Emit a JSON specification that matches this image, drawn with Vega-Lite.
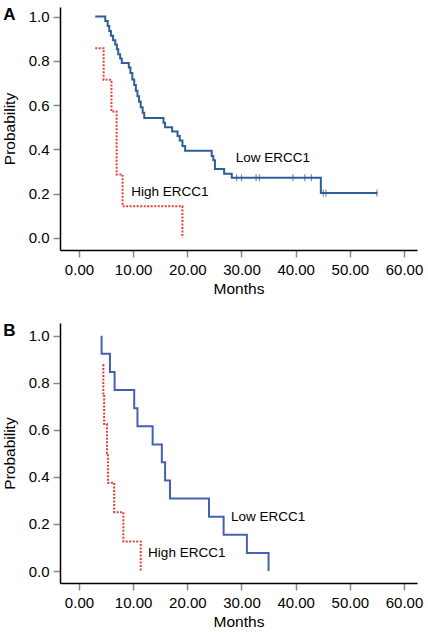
{
  "$schema": "https://vega.github.io/schema/vega-lite/v6.json",
  "background": "white",
  "padding": {"left": 2, "top": 5, "right": 5, "bottom": 5},
  "spacing": 24,
  "config": {
    "view": {"stroke": null},
    "font": "Liberation Sans",
    "axis": {
      "grid": false,
      "domainColor": "#000000",
      "domainWidth": 1.5,
      "tickColor": "#888888",
      "tickWidth": 1.5,
      "tickSize": 7,
      "labelFont": "Liberation Sans",
      "labelFontSize": 15,
      "labelColor": "#000000",
      "labelFlush": false,
      "labelOverlap": false,
      "titleFont": "Liberation Sans",
      "titleFontSize": 15.5,
      "titleFontWeight": "normal",
      "titleColor": "#000000"
    }
  },
  "datasets": {
    "curvesA": [
      {"group": "Low ERCC1", "i": 1, "month": 3.0, "prob": 1.0},
      {"group": "Low ERCC1", "i": 2, "month": 4.86, "prob": 0.98},
      {"group": "Low ERCC1", "i": 3, "month": 5.3, "prob": 0.957},
      {"group": "Low ERCC1", "i": 4, "month": 5.6, "prob": 0.935},
      {"group": "Low ERCC1", "i": 5, "month": 5.9, "prob": 0.913},
      {"group": "Low ERCC1", "i": 6, "month": 6.3, "prob": 0.893},
      {"group": "Low ERCC1", "i": 7, "month": 6.7, "prob": 0.873},
      {"group": "Low ERCC1", "i": 8, "month": 7.0, "prob": 0.852},
      {"group": "Low ERCC1", "i": 9, "month": 7.25, "prob": 0.83},
      {"group": "Low ERCC1", "i": 10, "month": 7.6, "prob": 0.81},
      {"group": "Low ERCC1", "i": 11, "month": 7.9, "prob": 0.79},
      {"group": "Low ERCC1", "i": 12, "month": 9.2, "prob": 0.77},
      {"group": "Low ERCC1", "i": 13, "month": 9.5, "prob": 0.745},
      {"group": "Low ERCC1", "i": 14, "month": 9.85, "prob": 0.715},
      {"group": "Low ERCC1", "i": 15, "month": 10.2, "prob": 0.69},
      {"group": "Low ERCC1", "i": 16, "month": 10.5, "prob": 0.665},
      {"group": "Low ERCC1", "i": 17, "month": 10.8, "prob": 0.64},
      {"group": "Low ERCC1", "i": 18, "month": 11.1, "prob": 0.615},
      {"group": "Low ERCC1", "i": 19, "month": 11.4, "prob": 0.59},
      {"group": "Low ERCC1", "i": 20, "month": 11.75, "prob": 0.565},
      {"group": "Low ERCC1", "i": 21, "month": 12.05, "prob": 0.541},
      {"group": "Low ERCC1", "i": 22, "month": 15.6, "prob": 0.52},
      {"group": "Low ERCC1", "i": 23, "month": 15.9, "prob": 0.5},
      {"group": "Low ERCC1", "i": 24, "month": 17.2, "prob": 0.48},
      {"group": "Low ERCC1", "i": 25, "month": 18.2, "prob": 0.46},
      {"group": "Low ERCC1", "i": 26, "month": 18.6, "prob": 0.44},
      {"group": "Low ERCC1", "i": 27, "month": 19.1, "prob": 0.415},
      {"group": "Low ERCC1", "i": 28, "month": 19.6, "prob": 0.393},
      {"group": "Low ERCC1", "i": 29, "month": 24.5, "prob": 0.37},
      {"group": "Low ERCC1", "i": 30, "month": 24.8, "prob": 0.35},
      {"group": "Low ERCC1", "i": 31, "month": 25.1, "prob": 0.311},
      {"group": "Low ERCC1", "i": 32, "month": 26.8, "prob": 0.29},
      {"group": "Low ERCC1", "i": 33, "month": 28.2, "prob": 0.271},
      {"group": "Low ERCC1", "i": 34, "month": 44.65, "prob": 0.202},
      {"group": "Low ERCC1", "i": 35, "month": 55.1, "prob": 0.202},
      {"group": "High ERCC1", "i": 1, "month": 3.0, "prob": 0.857},
      {"group": "High ERCC1", "i": 2, "month": 4.55, "prob": 0.714},
      {"group": "High ERCC1", "i": 3, "month": 6.0, "prob": 0.571},
      {"group": "High ERCC1", "i": 4, "month": 6.95, "prob": 0.286},
      {"group": "High ERCC1", "i": 5, "month": 8.05, "prob": 0.143},
      {"group": "High ERCC1", "i": 6, "month": 19.1, "prob": 0.0}
    ],
    "censorA": [
      {"group": "Low ERCC1", "month": 29.1, "prob": 0.271},
      {"group": "Low ERCC1", "month": 30.0, "prob": 0.271},
      {"group": "Low ERCC1", "month": 32.7, "prob": 0.271},
      {"group": "Low ERCC1", "month": 33.3, "prob": 0.271},
      {"group": "Low ERCC1", "month": 39.5, "prob": 0.271},
      {"group": "Low ERCC1", "month": 41.7, "prob": 0.271},
      {"group": "Low ERCC1", "month": 42.9, "prob": 0.271},
      {"group": "Low ERCC1", "month": 45.1, "prob": 0.202},
      {"group": "Low ERCC1", "month": 45.6, "prob": 0.202},
      {"group": "Low ERCC1", "month": 55.0, "prob": 0.202}
    ],
    "labelsA": [
      {"label": "Low ERCC1", "month": 35.8, "prob": 0.36},
      {"label": "High ERCC1", "month": 16.8, "prob": 0.205}
    ],
    "letterA": [
      {"label": "A", "month": -12.83, "prob": 1.007}
    ],
    "curvesB": [
      {"group": "Low ERCC1", "i": 1, "month": 4.18, "prob": 1.0},
      {"group": "Low ERCC1", "i": 2, "month": 4.18, "prob": 0.923},
      {"group": "Low ERCC1", "i": 3, "month": 5.72, "prob": 0.846},
      {"group": "Low ERCC1", "i": 4, "month": 6.58, "prob": 0.769},
      {"group": "Low ERCC1", "i": 5, "month": 10.2, "prob": 0.692},
      {"group": "Low ERCC1", "i": 6, "month": 10.8, "prob": 0.615},
      {"group": "Low ERCC1", "i": 7, "month": 13.6, "prob": 0.538},
      {"group": "Low ERCC1", "i": 8, "month": 15.3, "prob": 0.462},
      {"group": "Low ERCC1", "i": 9, "month": 15.9, "prob": 0.385},
      {"group": "Low ERCC1", "i": 10, "month": 16.8, "prob": 0.308},
      {"group": "Low ERCC1", "i": 11, "month": 24.0, "prob": 0.231},
      {"group": "Low ERCC1", "i": 12, "month": 26.7, "prob": 0.154},
      {"group": "Low ERCC1", "i": 13, "month": 31.0, "prob": 0.077},
      {"group": "Low ERCC1", "i": 14, "month": 35.0, "prob": 0.0},
      {"group": "High ERCC1", "i": 1, "month": 4.37, "prob": 0.875},
      {"group": "High ERCC1", "i": 2, "month": 4.5, "prob": 0.75},
      {"group": "High ERCC1", "i": 3, "month": 4.65, "prob": 0.625},
      {"group": "High ERCC1", "i": 4, "month": 5.17, "prob": 0.5},
      {"group": "High ERCC1", "i": 5, "month": 5.35, "prob": 0.375},
      {"group": "High ERCC1", "i": 6, "month": 6.5, "prob": 0.25},
      {"group": "High ERCC1", "i": 7, "month": 8.2, "prob": 0.125},
      {"group": "High ERCC1", "i": 8, "month": 11.4, "prob": 0.0}
    ],
    "labelsB": [
      {"label": "Low ERCC1", "month": 34.9, "prob": 0.228},
      {"label": "High ERCC1", "month": 19.9, "prob": 0.078}
    ],
    "letterB": [
      {"label": "B", "month": -12.83, "prob": 1.022}
    ]
  },
  "vconcat": [
    {
      "width": 357,
      "height": 243,
      "encoding": {
        "x": {"field": "month", "type": "quantitative",
          "scale": {"domain": [-3.5, 62.4], "nice": false, "zero": false},
          "axis": {"values": [0, 10, 20, 30, 40, 50, 60], "format": ".2f", "title": "Months", "labelPadding": 5, "titlePadding": 4}},
        "y": {"field": "prob", "type": "quantitative",
          "scale": {"domain": [-0.055, 1.043], "nice": false, "zero": false},
          "axis": {"values": [0, 0.2, 0.4, 0.6, 0.8, 1.0], "format": ".1f", "title": "Probability", "labelPadding": 4, "titlePadding": 11}}
      },
      "layer": [
        {
          "data": {"name": "curvesA"},
          "mark": {"type": "line", "interpolate": "step-after", "strokeWidth": 2},
          "encoding": {
            "color": {"field": "group", "type": "nominal", "scale": {"domain": ["Low ERCC1", "High ERCC1"], "range": ["#2f5d97", "#e2403a"]}, "legend": null},
            "strokeDash": {"field": "group", "type": "nominal", "scale": {"domain": ["Low ERCC1", "High ERCC1"], "range": [[1, 0], [2, 1.5]]}, "legend": null},
            "order": {"field": "i", "type": "quantitative"}
          }
        },
        {
          "data": {"name": "censorA"},
          "mark": {"type": "tick", "orient": "vertical", "size": 7, "thickness": 1.2, "color": "#2f5d97"},
          "encoding": {}
        },
        {
          "data": {"name": "labelsA"},
          "mark": {"type": "text", "align": "center", "baseline": "middle", "fontSize": 13.5, "color": "#000000"},
          "encoding": {"text": {"field": "label"}}
        },
        {
          "data": {"name": "letterA"},
          "mark": {"type": "text", "align": "center", "baseline": "middle", "fontSize": 17, "fontWeight": "bold", "color": "#000000"},
          "encoding": {"text": {"field": "label"}}
        }
      ]
    },
    {
      "width": 357,
      "height": 260,
      "encoding": {
        "x": {"field": "month", "type": "quantitative",
          "scale": {"domain": [-3.5, 62.4], "nice": false, "zero": false},
          "axis": {"values": [0, 10, 20, 30, 40, 50, 60], "format": ".2f", "title": "Months", "labelPadding": 5, "titlePadding": 4}},
        "y": {"field": "prob", "type": "quantitative",
          "scale": {"domain": [-0.051, 1.054], "nice": false, "zero": false},
          "axis": {"values": [0, 0.2, 0.4, 0.6, 0.8, 1.0], "format": ".1f", "title": "Probability", "labelPadding": 4, "titlePadding": 11}}
      },
      "layer": [
        {
          "data": {"name": "curvesB"},
          "mark": {"type": "line", "interpolate": "step-after", "strokeWidth": 2},
          "encoding": {
            "color": {"field": "group", "type": "nominal", "scale": {"domain": ["Low ERCC1", "High ERCC1"], "range": ["#4262b0", "#e2403a"]}, "legend": null},
            "strokeDash": {"field": "group", "type": "nominal", "scale": {"domain": ["Low ERCC1", "High ERCC1"], "range": [[1, 0], [2, 1.5]]}, "legend": null},
            "order": {"field": "i", "type": "quantitative"}
          }
        },
        {
          "data": {"name": "labelsB"},
          "mark": {"type": "text", "align": "center", "baseline": "middle", "fontSize": 13.5, "color": "#000000"},
          "encoding": {"text": {"field": "label"}}
        },
        {
          "data": {"name": "letterB"},
          "mark": {"type": "text", "align": "center", "baseline": "middle", "fontSize": 17, "fontWeight": "bold", "color": "#000000"},
          "encoding": {"text": {"field": "label"}}
        }
      ]
    }
  ],
  "resolve": {"scale": {"color": "independent", "strokeDash": "independent"}}
}
